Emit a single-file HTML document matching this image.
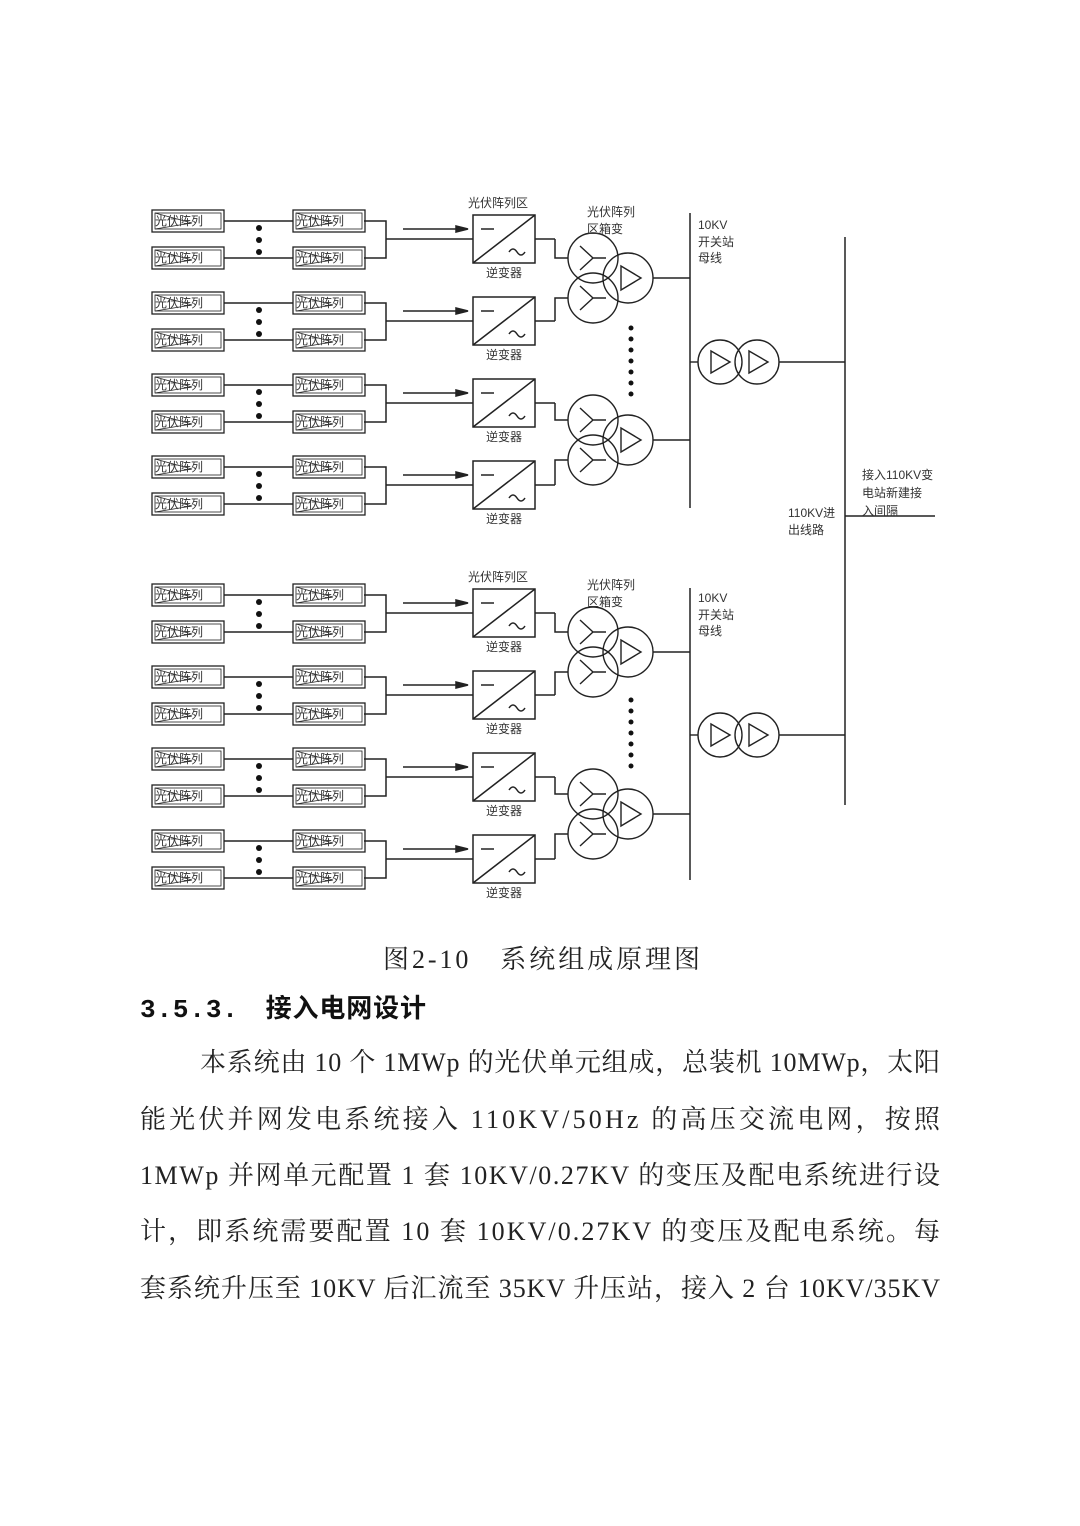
<!DOCTYPE html>
<html><head><meta charset="utf-8"><style>
html,body{margin:0;padding:0;background:#fff;}
svg{display:block;}
.s{font-family:"Liberation Sans","Noto Sans CJK SC",sans-serif;font-size:12px;fill:#333;}
.t{font-family:"Liberation Serif","Noto Serif CJK SC",serif;font-size:26px;fill:#222;}
.h{font-family:"Liberation Mono","Noto Sans CJK SC",sans-serif;font-size:26px;font-weight:bold;fill:#111;}
</style></head><body>
<svg width="1080" height="1526" viewBox="0 0 1080 1526" xmlns="http://www.w3.org/2000/svg">
<defs>
<g id="pv" fill="none" stroke="#222" stroke-width="1.3">
<rect x="0" y="0" width="72" height="22"/><rect x="3" y="3" width="66" height="16" stroke-width="0.8"/>
<polyline points="3,3 40,13 3,19" stroke-width="0.8"/>
</g>
<g id="grp" fill="none" stroke="#222" stroke-width="1.5">
<use href="#pv" x="152" y="-11"/><use href="#pv" x="293" y="-11"/>
<use href="#pv" x="152" y="26"/><use href="#pv" x="293" y="26"/>
<line x1="224" y1="0" x2="293" y2="0"/><line x1="224" y1="37" x2="293" y2="37"/>
<polyline points="364,0 386,0 386,37 364,37"/>
<line x1="386" y1="18" x2="473" y2="18"/>
<line x1="403" y1="8" x2="458" y2="8"/>
<polygon points="456,5 468,8 456,11" fill="#222"/>
<circle cx="259" cy="7" r="3" fill="#111" stroke="none"/>
<circle cx="259" cy="19" r="3" fill="#111" stroke="none"/>
<circle cx="259" cy="31" r="3" fill="#111" stroke="none"/>
<rect x="473" y="-6" width="62" height="48"/>
<line x1="473" y1="42" x2="535" y2="-6"/>
<line x1="481" y1="8" x2="494" y2="8"/>
<path d="M509,31 q4,-6 8,0 t8,0" />
<line x1="535" y1="18" x2="555" y2="18"/>
</g>
<g id="tx" fill="none" stroke="#222" stroke-width="1.4">
<circle cx="593" cy="-20" r="25"/><circle cx="593" cy="20" r="25"/><circle cx="628" cy="0" r="25"/>
<path d="M580,-32 L593,-20 L580,-8 M593,-20 L606,-20"/>
<path d="M580,8 L593,20 L580,32 M593,20 L606,20"/>
<polygon points="621,-12 621,12 641,0"/>
<line x1="653" y1="0" x2="690" y2="0"/>
</g>
<g id="tt" fill="none" stroke="#222" stroke-width="1.4">
<circle cx="720" cy="0" r="22"/><circle cx="757" cy="0" r="22"/>
<polygon points="711,-11 711,11 730,0"/><polygon points="749,-11 749,11 768,0"/>
<line x1="690" y1="0" x2="698" y2="0"/><line x1="779" y1="0" x2="845" y2="0"/>
</g>
<g id="dots" fill="#111">
<circle cx="631" cy="0" r="2.5"/><circle cx="631" cy="11" r="2.5"/><circle cx="631" cy="22" r="2.5"/><circle cx="631" cy="33" r="2.5"/><circle cx="631" cy="44" r="2.5"/><circle cx="631" cy="55" r="2.5"/><circle cx="631" cy="66" r="2.5"/>
</g>
</defs>
<rect width="1080" height="1526" fill="#fff"/>

<!-- top half -->
<use href="#grp" y="221"/><use href="#grp" y="303"/><use href="#grp" y="385"/><use href="#grp" y="467"/>
<use href="#grp" y="595"/><use href="#grp" y="677"/><use href="#grp" y="759"/><use href="#grp" y="841"/>
<g fill="none" stroke="#222" stroke-width="1.5">
<polyline points="555,239 555,258 568,258"/><polyline points="555,321 555,298 568,298"/>
<polyline points="555,403 555,420 568,420"/><polyline points="555,485 555,460 568,460"/>
<polyline points="555,613 555,632 568,632"/><polyline points="555,695 555,672 568,672"/>
<polyline points="555,777 555,794 568,794"/><polyline points="555,859 555,834 568,834"/>
<line x1="690" y1="213" x2="690" y2="508"/>
<line x1="690" y1="588" x2="690" y2="880"/>
<line x1="845" y1="237" x2="845" y2="805"/>
<line x1="845" y1="516" x2="935" y2="516"/>
</g>
<use href="#tx" y="278"/><use href="#tx" y="440"/><use href="#tx" y="652"/><use href="#tx" y="814"/>
<use href="#dots" y="328"/><use href="#dots" y="700"/>
<use href="#tt" y="362"/><use href="#tt" y="735"/>

<g class="s">
<text x="155" y="225">光伏阵列</text><text x="296" y="225">光伏阵列</text><text x="155" y="262">光伏阵列</text><text x="296" y="262">光伏阵列</text>
<text x="155" y="307">光伏阵列</text><text x="296" y="307">光伏阵列</text><text x="155" y="344">光伏阵列</text><text x="296" y="344">光伏阵列</text>
<text x="155" y="389">光伏阵列</text><text x="296" y="389">光伏阵列</text><text x="155" y="426">光伏阵列</text><text x="296" y="426">光伏阵列</text>
<text x="155" y="471">光伏阵列</text><text x="296" y="471">光伏阵列</text><text x="155" y="508">光伏阵列</text><text x="296" y="508">光伏阵列</text>
<text x="155" y="599">光伏阵列</text><text x="296" y="599">光伏阵列</text><text x="155" y="636">光伏阵列</text><text x="296" y="636">光伏阵列</text>
<text x="155" y="681">光伏阵列</text><text x="296" y="681">光伏阵列</text><text x="155" y="718">光伏阵列</text><text x="296" y="718">光伏阵列</text>
<text x="155" y="763">光伏阵列</text><text x="296" y="763">光伏阵列</text><text x="155" y="800">光伏阵列</text><text x="296" y="800">光伏阵列</text>
<text x="155" y="845">光伏阵列</text><text x="296" y="845">光伏阵列</text><text x="155" y="882">光伏阵列</text><text x="296" y="882">光伏阵列</text>
<text x="486" y="277">逆变器</text><text x="486" y="359">逆变器</text><text x="486" y="441">逆变器</text><text x="486" y="523">逆变器</text>
<text x="486" y="651">逆变器</text><text x="486" y="733">逆变器</text><text x="486" y="815">逆变器</text><text x="486" y="897">逆变器</text>
<text x="468" y="207">光伏阵列区</text><text x="468" y="581">光伏阵列区</text>
<text x="587" y="216">光伏阵列</text><text x="587" y="233">区箱变</text>
<text x="587" y="589">光伏阵列</text><text x="587" y="606">区箱变</text>
<text x="698" y="229">10KV</text><text x="698" y="246">开关站</text><text x="698" y="262">母线</text>
<text x="698" y="602">10KV</text><text x="698" y="619">开关站</text><text x="698" y="635">母线</text>
<text x="862" y="479">接入110KV变</text><text x="862" y="497">电站新建接</text><text x="862" y="515">入间隔</text>
<text x="788" y="517">110KV进</text><text x="788" y="534">出线路</text>
</g>

<text class="t" x="383" y="968" textLength="317" lengthAdjust="spacing">图2-10　系统组成原理图</text>
<text class="h" x="140" y="1017" textLength="286" lengthAdjust="spacing">3.5.3.　接入电网设计</text>
<text class="t" x="200" y="1071" textLength="740" lengthAdjust="spacing">本系统由 10 个 1MWp 的光伏单元组成，总装机 10MWp，太阳</text>
<text class="t" x="140" y="1128" textLength="800" lengthAdjust="spacing">能光伏并网发电系统接入 110KV/50Hz 的高压交流电网，按照</text>
<text class="t" x="140" y="1184" textLength="800" lengthAdjust="spacing">1MWp 并网单元配置 1 套 10KV/0.27KV 的变压及配电系统进行设</text>
<text class="t" x="140" y="1240" textLength="800" lengthAdjust="spacing">计，即系统需要配置 10 套 10KV/0.27KV 的变压及配电系统。每</text>
<text class="t" x="140" y="1297" textLength="800" lengthAdjust="spacing">套系统升压至 10KV 后汇流至 35KV 升压站，接入 2 台 10KV/35KV</text>
</svg>
</body></html>
